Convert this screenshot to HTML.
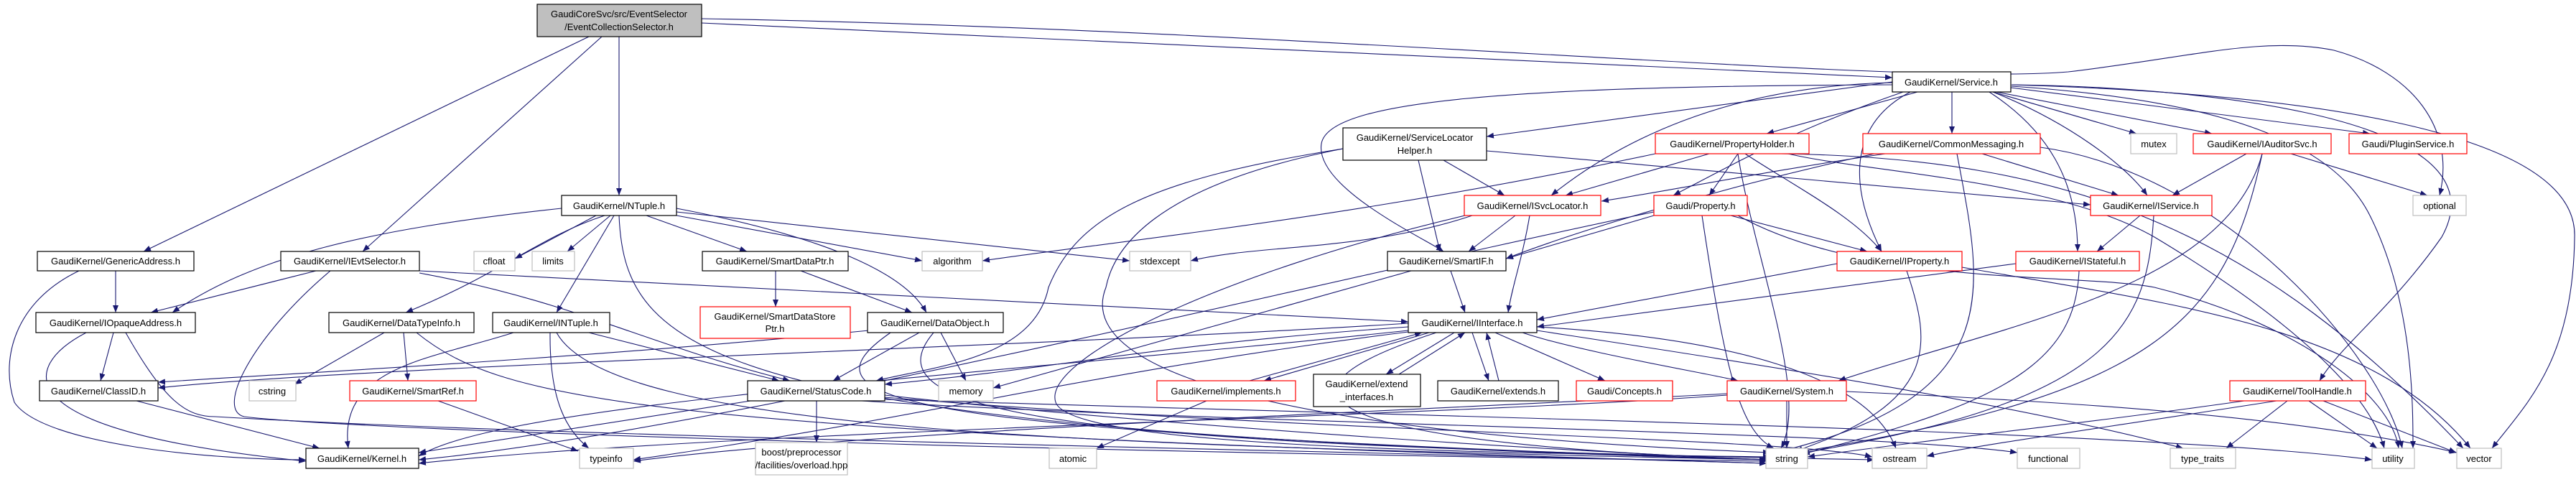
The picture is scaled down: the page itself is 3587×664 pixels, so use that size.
<!DOCTYPE html>
<html><head><meta charset="utf-8"><style>
html,body{margin:0;padding:0;background:#fff;}
svg{display:block;}
text{font-family:"Liberation Sans",sans-serif;font-size:13px;fill:#000;}
</style></head><body>
<svg width="3587" height="664" viewBox="0 0 3587 664" xmlns="http://www.w3.org/2000/svg">
<defs><marker id="a" markerWidth="10" markerHeight="8" refX="10" refY="4" orient="auto" markerUnits="userSpaceOnUse"><path d="M0,0 L10,4 L0,8 z" fill="#191970"/></marker></defs>
<g fill="none" stroke="#191970" stroke-width="1.1" marker-end="url(#a)">
<path d="M820,51 L200,350"/><path d="M838,51 L505,350"/><path d="M862,51 L862,272"/>
<path d="M977,32 L2635,108"/>
<path d="M977,26 C1800,40 2650,120 2880,100 C3050,80 3150,50 3250,70 C3360,100 3420,180 3397,272"/>
<path d="M2635,114 L2070,190"/><path d="M2670,128 L2460,186"/><path d="M2718,128 L2718,186"/>
<path d="M2775,128 L2975,186"/><path d="M2780,128 L3080,186"/><path d="M2800,122 L3300,186"/>
<path d="M2635,115 C2400,120 2250,200 2160,272"/><path d="M2650,128 C2500,180 2430,220 2330,272"/>
<path d="M2635,118 C2100,120 1850,140 1840,200 C1830,260 1980,330 2010,350"/>
<path d="M2775,128 C2880,170 2960,230 2990,272"/><path d="M2770,128 C2850,180 2893,250 2893,350"/>
<path d="M2660,128 C2580,170 2570,250 2620,350"/>
<path d="M2801,118 C3000,120 3500,150 3400,330 C3330,430 3260,480 3230,530"/>
<path d="M2801,118 C3200,130 3590,180 3585,330 C3583,500 3520,560 3470,624"/>
<path d="M2801,120 C3100,140 3250,200 3300,300 C3360,420 3360,560 3360,624"/>
<path d="M2010,223 L2095,272"/><path d="M1975,223 L2005,350"/><path d="M2070,210 L2911,285"/>
<path d="M1870,207 C1600,250 1500,300 1460,400 C1440,500 1300,510 1220,530"/>
<path d="M1870,207 C1600,260 1550,350 1540,400 C1500,500 1700,600 2465,630"/>
<path d="M2380,214 L2180,272"/><path d="M2420,214 L2380,272"/><path d="M2430,214 C2500,260 2580,300 2620,350"/>
<path d="M2420,214 C2440,350 2520,550 2480,624"/><path d="M2305,214 C1900,300 1600,330 1368,363"/>
<path d="M2490,214 C2600,240 2860,250 3000,330 C3200,450 3300,550 3320,624"/>
<path d="M2480,214 C2900,220 3150,330 3430,624"/>
<path d="M2625,214 C2450,240 2300,270 2230,280"/><path d="M2610,214 C2400,260 2200,320 2097,360"/>
<path d="M2760,214 L2950,272"/><path d="M2725,214 C2760,400 2800,550 2480,628"/>
<path d="M2841,205 C3100,240 3320,500 3345,624"/>
<path d="M3128,214 L3025,272"/><path d="M3190,214 L3380,272"/>
<path d="M3150,214 C3100,400 2800,450 2560,530"/><path d="M3150,214 C3100,450 3000,550 2500,630"/>
<path d="M2980,300 L2920,350"/><path d="M2999,300 C2990,450 2950,560 2500,632"/>
<path d="M2130,300 C2120,360 2105,400 2100,435"/><path d="M2110,300 L2045,350"/>
<path d="M2050,300 C1900,350 1750,340 1658,363"/>
<path d="M2040,300 C1700,380 1450,500 1470,560 C1490,620 2000,630 2465,636"/>
<path d="M2303,300 L2097,360"/><path d="M2410,300 L2600,350"/><path d="M2370,300 C2400,500 2420,600 2470,624"/>
<path d="M2303,295 C1800,400 1000,600 583,640"/>
<path d="M2420,300 C2600,400 2900,380 3000,400 C3200,450 3330,550 3340,624"/>
<path d="M2020,377 L2040,435"/><path d="M1965,377 L1383,540"/>
<path d="M2558,367 L2140,445"/><path d="M2655,377 C2690,480 2700,560 2500,628"/>
<path d="M2732,372 C3000,420 3300,450 3440,624"/>
<path d="M2807,367 L2140,455"/><path d="M2895,377 C2890,500 2800,560 2510,632"/>
<path d="M1990,463 L1760,530"/><path d="M1740,530 L1980,463"/>
<path d="M2025,463 L1930,521"/><path d="M1948,521 L2040,463"/>
<path d="M2050,463 L2073,530"/><path d="M2087,530 L2070,463"/>
<path d="M2082,463 L2235,530"/><path d="M2120,463 C2200,490 2380,520 2420,530"/>
<path d="M1961,455 C1600,480 1500,510 1232,535"/><path d="M1961,460 C1400,520 700,560 583,635"/>
<path d="M1961,462 C1500,520 1300,580 882,640"/><path d="M2140,455 C2400,470 2600,520 2640,624"/>
<path d="M2140,460 C2400,500 2800,560 3040,624"/><path d="M1961,450 C1500,480 500,510 220,540"/>
<path d="M2000,463 C1700,560 1900,620 2465,640"/>
<path d="M782,290 C500,320 350,360 240,435"/><path d="M842,300 C750,330 700,380 565,435"/>
<path d="M830,300 L717,360"/><path d="M850,300 L790,350"/><path d="M855,300 L775,435"/>
<path d="M900,300 L1040,350"/><path d="M942,300 L1284,363"/><path d="M942,295 L1573,363"/>
<path d="M942,290 C1150,330 1260,380 1290,435"/><path d="M862,300 C870,500 1000,600 2460,640"/>
<path d="M161,377 L161,435"/><path d="M110,377 C20,420 0,500 20,560 C60,620 300,640 426,640"/>
<path d="M440,377 L210,435"/><path d="M584,377 L1961,448"/><path d="M584,380 C800,420 900,480 1100,530"/>
<path d="M460,377 C350,470 300,570 340,580 C500,600 1500,630 2460,642"/>
<path d="M158,463 L140,530"/><path d="M120,463 C30,510 0,600 426,642"/>
<path d="M175,463 C230,560 260,580 300,580 C800,610 2000,630 2460,645"/>
<path d="M535,463 L410,535"/><path d="M562,463 L568,530"/><path d="M580,463 C700,560 900,600 2460,645"/>
<path d="M715,463 C600,500 470,510 485,624"/><path d="M766,463 C765,560 790,600 820,624"/>
<path d="M820,463 L1085,530"/><path d="M775,463 C850,600 1500,620 2460,640"/>
<path d="M1080,377 L1080,427"/><path d="M1115,377 L1270,435"/>
<path d="M1210,460 C800,500 400,520 220,532"/><path d="M1280,463 L1160,530"/><path d="M1310,463 L1345,530"/>
<path d="M1240,463 C1100,560 1250,600 2460,640"/><path d="M1300,463 C1200,580 1500,620 2610,640"/>
<path d="M190,558 L445,624"/><path d="M610,558 L805,628"/>
<path d="M1137,558 L1137,616"/><path d="M1045,558 L583,630"/>
<path d="M1232,550 C1500,580 2000,620 2460,640"/><path d="M1232,553 C1800,600 2500,610 2607,636"/>
<path d="M1200,558 C1700,590 2600,600 2809,630"/><path d="M1232,556 C2000,580 3000,600 3303,640"/>
<path d="M1680,558 L1527,624"/>
<path d="M2488,558 L2488,624"/><path d="M2405,550 C2000,580 1000,600 583,645"/>
<path d="M2405,548 C2000,570 1200,600 882,642"/><path d="M2571,545 C2900,560 3200,580 3421,630"/>
<path d="M3185,558 L3100,624"/><path d="M3125,558 C2900,590 2700,610 2517,636"/>
<path d="M3170,558 C2900,600 2750,620 2683,635"/><path d="M3215,558 L3310,624"/><path d="M3235,558 L3420,630"/>
</g>
<g stroke-width="1.2">
<!-- nodes -->
<rect x="748" y="6" width="229" height="45" fill="#bfbfbf" stroke="#000"/>
<text x="862" y="24" text-anchor="middle">GaudiCoreSvc/src/EventSelector</text>
<text x="862" y="42" text-anchor="middle">/EventCollectionSelector.h</text>

<rect x="2635" y="100" width="165" height="28" fill="#fff" stroke="#000"/><text x="2717" y="119" text-anchor="middle">GaudiKernel/Service.h</text>

<rect x="1870" y="178" width="200" height="45" fill="#fff" stroke="#000"/>
<text x="1970" y="196" text-anchor="middle">GaudiKernel/ServiceLocator</text><text x="1970" y="214" text-anchor="middle">Helper.h</text>
<rect x="2305" y="186" width="214" height="28" fill="#fff" stroke="#f00"/><text x="2412" y="205" text-anchor="middle">GaudiKernel/PropertyHolder.h</text>
<rect x="2594" y="186" width="247" height="28" fill="#fff" stroke="#f00"/><text x="2717" y="205" text-anchor="middle">GaudiKernel/CommonMessaging.h</text>
<rect x="2967" y="186" width="64" height="28" fill="#fff" stroke="#bfbfbf"/><text x="2999" y="205" text-anchor="middle">mutex</text>
<rect x="3054" y="186" width="192" height="28" fill="#fff" stroke="#f00"/><text x="3150" y="205" text-anchor="middle">GaudiKernel/IAuditorSvc.h</text>
<rect x="3271" y="186" width="164" height="28" fill="#fff" stroke="#f00"/><text x="3353" y="205" text-anchor="middle">Gaudi/PluginService.h</text>

<rect x="782" y="272" width="160" height="28" fill="#fff" stroke="#000"/><text x="862" y="291" text-anchor="middle">GaudiKernel/NTuple.h</text>
<rect x="2039" y="272" width="190" height="28" fill="#fff" stroke="#f00"/><text x="2134" y="291" text-anchor="middle">GaudiKernel/ISvcLocator.h</text>
<rect x="2303" y="272" width="130" height="28" fill="#fff" stroke="#f00"/><text x="2368" y="291" text-anchor="middle">Gaudi/Property.h</text>
<rect x="2911" y="272" width="169" height="28" fill="#fff" stroke="#f00"/><text x="2995" y="291" text-anchor="middle">GaudiKernel/IService.h</text>
<rect x="3360" y="272" width="74" height="28" fill="#fff" stroke="#bfbfbf"/><text x="3397" y="291" text-anchor="middle">optional</text>

<rect x="52" y="350" width="218" height="27" fill="#fff" stroke="#000"/><text x="161" y="368" text-anchor="middle">GaudiKernel/GenericAddress.h</text>
<rect x="391" y="350" width="193" height="27" fill="#fff" stroke="#000"/><text x="487" y="368" text-anchor="middle">GaudiKernel/IEvtSelector.h</text>
<rect x="660" y="350" width="57" height="27" fill="#fff" stroke="#bfbfbf"/><text x="688" y="368" text-anchor="middle">cfloat</text>
<rect x="741" y="350" width="59" height="27" fill="#fff" stroke="#bfbfbf"/><text x="770" y="368" text-anchor="middle">limits</text>
<rect x="978" y="350" width="203" height="27" fill="#fff" stroke="#000"/><text x="1079" y="368" text-anchor="middle">GaudiKernel/SmartDataPtr.h</text>
<rect x="1284" y="350" width="84" height="27" fill="#fff" stroke="#bfbfbf"/><text x="1326" y="368" text-anchor="middle">algorithm</text>
<rect x="1573" y="350" width="85" height="27" fill="#fff" stroke="#bfbfbf"/><text x="1615" y="368" text-anchor="middle">stdexcept</text>
<rect x="1932" y="350" width="165" height="27" fill="#fff" stroke="#000"/><text x="2014" y="368" text-anchor="middle">GaudiKernel/SmartIF.h</text>
<rect x="2558" y="350" width="174" height="27" fill="#fff" stroke="#f00"/><text x="2645" y="368" text-anchor="middle">GaudiKernel/IProperty.h</text>
<rect x="2807" y="350" width="172" height="27" fill="#fff" stroke="#f00"/><text x="2893" y="368" text-anchor="middle">GaudiKernel/IStateful.h</text>

<rect x="50" y="435" width="222" height="28" fill="#fff" stroke="#000"/><text x="161" y="454" text-anchor="middle">GaudiKernel/IOpaqueAddress.h</text>
<rect x="458" y="435" width="202" height="28" fill="#fff" stroke="#000"/><text x="559" y="454" text-anchor="middle">GaudiKernel/DataTypeInfo.h</text>
<rect x="686" y="435" width="163" height="28" fill="#fff" stroke="#000"/><text x="767" y="454" text-anchor="middle">GaudiKernel/INTuple.h</text>
<rect x="975" y="427" width="209" height="44" fill="#fff" stroke="#f00"/>
<text x="1079" y="445" text-anchor="middle">GaudiKernel/SmartDataStore</text><text x="1079" y="462" text-anchor="middle">Ptr.h</text>
<rect x="1208" y="435" width="189" height="28" fill="#fff" stroke="#000"/><text x="1302" y="454" text-anchor="middle">GaudiKernel/DataObject.h</text>
<rect x="1961" y="435" width="179" height="28" fill="#fff" stroke="#000"/><text x="2050" y="454" text-anchor="middle">GaudiKernel/IInterface.h</text>

<rect x="55" y="530" width="165" height="28" fill="#fff" stroke="#000"/><text x="137" y="549" text-anchor="middle">GaudiKernel/ClassID.h</text>
<rect x="347" y="530" width="65" height="28" fill="#fff" stroke="#bfbfbf"/><text x="379" y="549" text-anchor="middle">cstring</text>
<rect x="487" y="530" width="176" height="28" fill="#fff" stroke="#f00"/><text x="575" y="549" text-anchor="middle">GaudiKernel/SmartRef.h</text>
<rect x="1041" y="530" width="191" height="28" fill="#fff" stroke="#000"/><text x="1136" y="549" text-anchor="middle">GaudiKernel/StatusCode.h</text>
<rect x="1307" y="530" width="76" height="28" fill="#fff" stroke="#bfbfbf"/><text x="1345" y="549" text-anchor="middle">memory</text>
<rect x="1611" y="530" width="193" height="28" fill="#fff" stroke="#f00"/><text x="1707" y="549" text-anchor="middle">GaudiKernel/implements.h</text>
<rect x="1829" y="521" width="149" height="45" fill="#fff" stroke="#000"/>
<text x="1903" y="539" text-anchor="middle">GaudiKernel/extend</text><text x="1903" y="557" text-anchor="middle">_interfaces.h</text>
<rect x="2002" y="530" width="168" height="28" fill="#fff" stroke="#000"/><text x="2086" y="549" text-anchor="middle">GaudiKernel/extends.h</text>
<rect x="2195" y="530" width="134" height="28" fill="#fff" stroke="#f00"/><text x="2262" y="549" text-anchor="middle">Gaudi/Concepts.h</text>
<rect x="2405" y="530" width="166" height="28" fill="#fff" stroke="#f00"/><text x="2488" y="549" text-anchor="middle">GaudiKernel/System.h</text>
<rect x="3105" y="530" width="189" height="28" fill="#fff" stroke="#f00"/><text x="3199" y="549" text-anchor="middle">GaudiKernel/ToolHandle.h</text>

<rect x="426" y="624" width="157" height="28" fill="#fff" stroke="#000"/><text x="504" y="643" text-anchor="middle">GaudiKernel/Kernel.h</text>
<rect x="807" y="624" width="75" height="28" fill="#fff" stroke="#bfbfbf"/><text x="844" y="643" text-anchor="middle">typeinfo</text>
<rect x="1052" y="616" width="128" height="45" fill="#fff" stroke="#bfbfbf"/>
<text x="1116" y="634" text-anchor="middle">boost/preprocessor</text><text x="1116" y="652" text-anchor="middle">/facilities/overload.hpp</text>
<rect x="1461" y="624" width="66" height="28" fill="#fff" stroke="#bfbfbf"/><text x="1494" y="643" text-anchor="middle">atomic</text>
<rect x="2459" y="624" width="58" height="28" fill="#fff" stroke="#bfbfbf"/><text x="2488" y="643" text-anchor="middle">string</text>
<rect x="2607" y="624" width="76" height="28" fill="#fff" stroke="#bfbfbf"/><text x="2645" y="643" text-anchor="middle">ostream</text>
<rect x="2809" y="624" width="87" height="28" fill="#fff" stroke="#bfbfbf"/><text x="2852" y="643" text-anchor="middle">functional</text>
<rect x="3022" y="624" width="91" height="28" fill="#fff" stroke="#bfbfbf"/><text x="3067" y="643" text-anchor="middle">type_traits</text>
<rect x="3303" y="624" width="59" height="28" fill="#fff" stroke="#bfbfbf"/><text x="3332" y="643" text-anchor="middle">utility</text>
<rect x="3421" y="624" width="62" height="28" fill="#fff" stroke="#bfbfbf"/><text x="3452" y="643" text-anchor="middle">vector</text>
</g>
</svg>
</body></html>
